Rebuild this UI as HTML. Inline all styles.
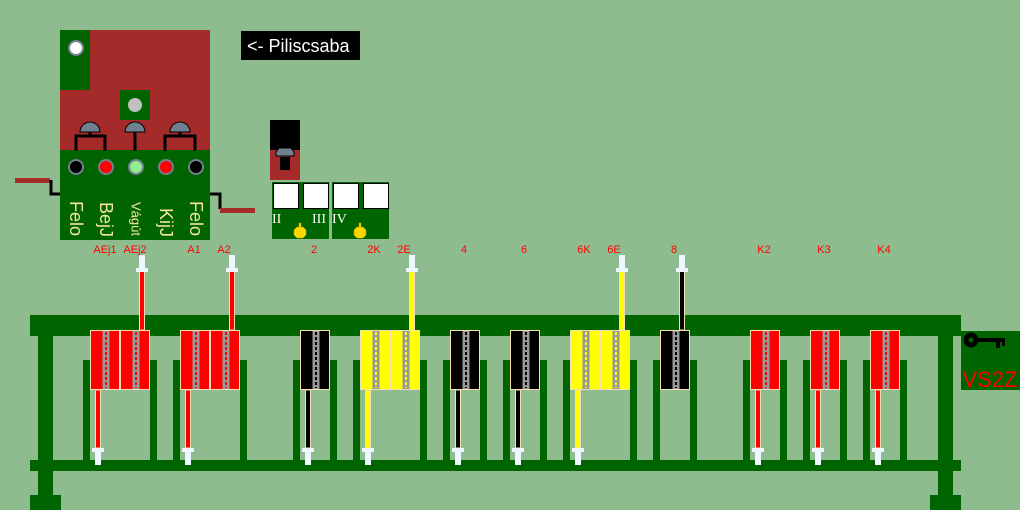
<!DOCTYPE html>
<html><head><meta charset="utf-8"><style>
html,body{margin:0;padding:0;background:#8fbc8f;width:1020px;height:510px;overflow:hidden}
svg{display:block}
text{font-family:"Liberation Sans",sans-serif}
</style></head><body>
<svg width="1020" height="510" viewBox="0 0 1020 510" xmlns="http://www.w3.org/2000/svg">
<defs>
<g id="body"><rect x="0.5" y="330.5" width="29" height="59" stroke="#f5deb3" stroke-width="1"/><rect x="12.5" y="331" width="7" height="58" fill="#999" stroke="none"/><line x1="16" y1="332" x2="16" y2="388" stroke-width="2" stroke-dasharray="3 2"/></g>
<g id="rodD"><rect x="5.5" y="390" width="5" height="58" stroke="#f5deb3" stroke-width="1"/><rect x="2" y="448" width="12" height="4" fill="#eef6ff" stroke="none"/><rect x="5" y="452" width="6" height="13" fill="#eef6ff" stroke="none"/></g>
<g id="rodU"><rect x="19.5" y="271" width="5" height="59" stroke="#f5deb3" stroke-width="1"/><rect x="16" y="268" width="12" height="4" fill="#eef6ff" stroke="none"/><rect x="19" y="255" width="6" height="13" fill="#eef6ff" stroke="none"/></g>
<path id="dome" d="M-10,132 A10,10 0 0 1 10,132 Z" fill="#708090" stroke="#000" stroke-width="1"/>
</defs>

<!-- top panel -->
<rect x="60" y="30" width="150" height="120" fill="#a52a2a"/>
<rect x="60" y="30" width="30" height="60" fill="#006400"/>
<circle cx="76" cy="48" r="7" fill="#fff" stroke="#708090" stroke-width="2"/>
<rect x="120" y="90" width="30" height="30" fill="#006400"/>
<circle cx="135" cy="105" r="7" fill="#c0c0c0"/>
<rect x="60" y="150" width="150" height="90" fill="#006400"/>
<g stroke="#000" stroke-width="3" fill="none">
<path d="M76,151 V136 H105 V151 M90,136 V131"/>
<path d="M135,151 V131"/>
<path d="M165,151 V136 H195 V151 M180,136 V131"/>
</g>
<use href="#dome" x="90"/><use href="#dome" x="135"/><use href="#dome" x="180"/>
<g stroke="#708090" stroke-width="2">
<circle cx="76" cy="167" r="7" fill="#000"/>
<circle cx="106" cy="167" r="7" fill="#f00"/>
<circle cx="136" cy="167" r="7" fill="#90ee90"/>
<circle cx="166" cy="167" r="7" fill="#f00"/>
<circle cx="196" cy="167" r="7" fill="#000"/>
</g>
<g fill="#f5e6a0" font-size="18" text-anchor="end" dominant-baseline="central">
<text transform="translate(76,236) rotate(90)">Felo</text>
<text transform="translate(106,237) rotate(90)">BejJ</text>
<text transform="translate(136,236) rotate(90)" font-size="13">Vágút</text>
<text transform="translate(166,237) rotate(90)">KijJ</text>
<text transform="translate(196,236) rotate(90)">Felo</text>
</g>
<rect x="15" y="178" width="35" height="5" fill="#a52a2a"/>
<path d="M51,180 V194 H60" stroke="#000" stroke-width="3" fill="none"/>
<path d="M210,194 H220 V209" stroke="#000" stroke-width="3" fill="none"/>
<rect x="220" y="208" width="35" height="5" fill="#a52a2a"/>

<rect x="241" y="31" width="119" height="29" fill="#000"/>
<text x="247" y="52" fill="#fff" font-size="18">&lt;- Piliscsaba</text>

<!-- small signal -->
<rect x="270" y="120" width="30" height="30" fill="#000"/>
<rect x="270" y="150" width="30" height="30" fill="#a52a2a"/>
<path d="M276,152 L279,148 H291 L294,152 V156 H276 Z" fill="#708090" stroke="#000"/>
<rect x="280" y="157" width="10" height="13" fill="#000"/>
<rect x="272" y="182" width="57" height="57" fill="#006400"/>
<rect x="332" y="182" width="57" height="57" fill="#006400"/>
<g fill="#fff" stroke="#000" stroke-width="1">
<rect x="273.5" y="183.5" width="25" height="25"/><rect x="303.5" y="183.5" width="25" height="25"/>
<rect x="333.5" y="183.5" width="25" height="25"/><rect x="363.5" y="183.5" width="25" height="25"/>
</g>
<g fill="#fff" font-size="14">
<text x="272" y="223" style="font-family:'Liberation Serif',serif">II</text>
<text x="312" y="223" style="font-family:'Liberation Serif',serif">III</text>
<text x="332" y="223" style="font-family:'Liberation Serif',serif">IV</text>
</g>
<g fill="#ffd700" stroke="#c8a000" stroke-width="0.5">
<polygon points="297,227 303,227 306,230 306,235 303,238 297,238 294,235 294,230"/><rect x="299" y="223" width="2" height="4"/>
<polygon points="357,227 363,227 366,230 366,235 363,238 357,238 354,235 354,230"/><rect x="359" y="223" width="2" height="4"/>
</g>

<!-- labels -->
<g fill="#f00" font-size="11" text-anchor="middle">
<text x="105" y="253">AEj1</text><text x="135" y="253">AEj2</text>
<text x="194" y="253">A1</text><text x="224" y="253">A2</text>
<text x="314" y="253">2</text><text x="374" y="253">2K</text><text x="404" y="253">2E</text>
<text x="464" y="253">4</text><text x="524" y="253">6</text>
<text x="584" y="253">6K</text><text x="614" y="253">6E</text><text x="674" y="253">8</text>
<text x="764" y="253">K2</text><text x="824" y="253">K3</text><text x="884" y="253">K4</text>
</g>

<!-- frame -->
<g fill="#006400">
<rect x="30" y="315" width="931" height="21"/>
<rect x="38" y="315" width="15" height="195"/>
<rect x="938" y="315" width="15" height="195"/>
<rect x="30" y="460" width="931" height="11"/>
<rect x="30" y="495" width="31" height="15"/>
<rect x="930" y="495" width="31" height="15"/>
<rect x="83" y="360" width="7" height="100"/><rect x="150" y="360" width="7" height="100"/>
<rect x="173" y="360" width="7" height="100"/><rect x="240" y="360" width="7" height="100"/>
<rect x="293" y="360" width="7" height="100"/><rect x="330" y="360" width="7" height="100"/>
<rect x="353" y="360" width="7" height="100"/><rect x="420" y="360" width="7" height="100"/>
<rect x="443" y="360" width="7" height="100"/><rect x="480" y="360" width="7" height="100"/>
<rect x="503" y="360" width="7" height="100"/><rect x="540" y="360" width="7" height="100"/>
<rect x="563" y="360" width="7" height="100"/><rect x="630" y="360" width="7" height="100"/>
<rect x="653" y="360" width="7" height="100"/><rect x="690" y="360" width="7" height="100"/>
<rect x="743" y="360" width="7" height="100"/><rect x="780" y="360" width="7" height="100"/>
<rect x="803" y="360" width="7" height="100"/><rect x="840" y="360" width="7" height="100"/>
<rect x="863" y="360" width="7" height="100"/><rect x="900" y="360" width="7" height="100"/>
<rect x="961" y="331" width="59" height="59"/>
</g>
<g fill="#000">
<circle cx="971" cy="340" r="5" fill="none" stroke="#000" stroke-width="5"/>
<rect x="976" y="338" width="29" height="4"/>
<rect x="996" y="340" width="4" height="8"/><rect x="1002" y="340" width="3" height="6"/>
</g>
<text x="990" y="387" fill="#f00" font-size="22" text-anchor="middle">VS2Z</text>

<!-- levers -->
<g fill="#f00" stroke="#f00">
<use href="#body" x="90"/><use href="#rodD" x="90"/>
<use href="#body" x="120"/><use href="#rodU" x="120"/>
<use href="#body" x="180"/><use href="#rodD" x="180"/>
<use href="#body" x="210"/><use href="#rodU" x="210"/>
<use href="#body" x="750"/><use href="#rodD" x="750"/>
<use href="#body" x="810"/><use href="#rodD" x="810"/>
<use href="#body" x="870"/><use href="#rodD" x="870"/>
</g>
<g fill="#000" stroke="#000">
<use href="#body" x="300"/><use href="#rodD" x="300"/>
<use href="#body" x="450"/><use href="#rodD" x="450"/>
<use href="#body" x="510"/><use href="#rodD" x="510"/>
<use href="#body" x="660"/><use href="#rodU" x="660"/>
</g>
<g fill="#ff0" stroke="#ff0">
<use href="#body" x="360"/><use href="#rodD" x="360"/>
<use href="#body" x="390"/><use href="#rodU" x="390"/>
<use href="#body" x="570"/><use href="#rodD" x="570"/>
<use href="#body" x="600"/><use href="#rodU" x="600"/>
</g>
</svg>
</body></html>
